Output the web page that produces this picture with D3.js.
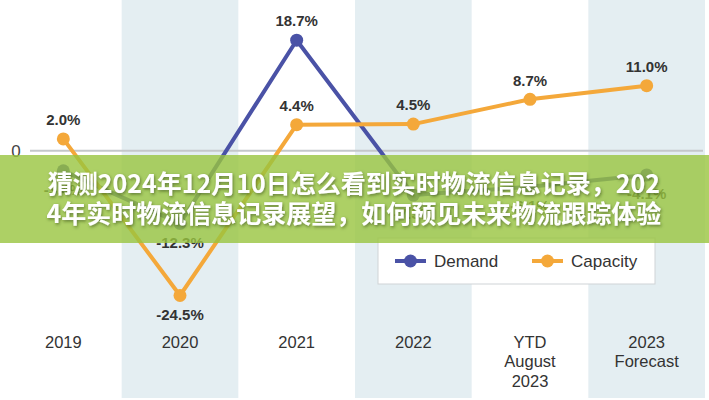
<!DOCTYPE html>
<html>
<head>
<meta charset="utf-8">
<script src="https://cdn.jsdelivr.net/npm/d3@7/dist/d3.min.js"></script>
<style>
html,body{margin:0;padding:0;background:#fff;}
svg{display:block;}
</style>
</head>
<body>
<svg id="chart" width="709" height="400"></svg>
<script>
const categories = ["2019", "2020", "2021", "2022", "YTD August 2023", "2023 Forecast"];
const categoryLines = [["2019"], ["2020"], ["2021"], ["2022"], ["YTD", "August", "2023"], ["2023", "Forecast"]];
const demand = [-3.4, -12.3, 18.7, -7.5, -6.1, -4.1];
const capacity = [2.0, -24.5, 4.4, 4.5, 8.7, 11.0];
const seriesNames = ["Demand", "Capacity"];
const zeroTick = ["0"];
const titleLines = ["猜测2024年12月10日怎么看到实时物流信息记录，202", "4年实时物流信息记录展望，如何预见未来物流跟踪体验"];

const W = 709, H = 400;
const svg = d3.select("#chart");
const colors = {Demand: "#4a52a6", Capacity: "#f4a83a"};

const x = d3.scaleBand().domain(categories).range([5, 705]).padding(0);
const y = d3.scaleLinear().domain([-24.5, 18.7]).range([295.5, 40.2]);

// alternating bands
svg.append("g").selectAll("rect")
  .data(categories.filter((d, i) => i % 2 === 1))
  .join("rect")
  .attr("x", d => x(d))
  .attr("y", 0)
  .attr("width", x.bandwidth())
  .attr("height", 398)
  .attr("fill", "#e4eef2");

// zero line
svg.append("line")
  .attr("x1", 30).attr("x2", 703)
  .attr("y1", y(0)).attr("y2", y(0))
  .attr("stroke", "#c4c7ca").attr("stroke-width", 2);

svg.append("text")
  .attr("x", 16).attr("y", y(0))
  .attr("dy", "0.35em")
  .attr("text-anchor", "middle")
  .attr("font-family", "Liberation Sans, Arial, sans-serif")
  .attr("font-size", 17)
  .attr("fill", "#444")
  .text(zeroTick[0]);

// category labels
const xl = svg.append("g");
categories.forEach((c, i) => {
  const t = xl.append("text")
    .attr("x", x(c) + x.bandwidth() / 2)
    .attr("y", 342)
    .attr("text-anchor", "middle")
    .attr("font-family", "Liberation Sans, Arial, sans-serif")
    .attr("font-size", 16.5)
    .attr("fill", "#333");
  categoryLines[i].forEach((ln, j) => {
    t.append("tspan")
      .attr("x", x(c) + x.bandwidth() / 2)
      .attr("y", 342 + j * 19.7)
      .attr("dy", "0.35em")
      .text(ln);
  });
});

const line = d3.line()
  .x((d, i) => x(categories[i]) + x.bandwidth() / 2)
  .y(d => y(d));

function drawSeries(name, vals, above) {
  const g = svg.append("g");
  g.append("path")
    .datum(vals)
    .attr("d", line)
    .attr("fill", "none")
    .attr("stroke", colors[name])
    .attr("stroke-width", 4)
    .attr("stroke-linejoin", "round");
  g.selectAll("circle")
    .data(vals)
    .join("circle")
    .attr("cx", (d, i) => x(categories[i]) + x.bandwidth() / 2)
    .attr("cy", d => y(d))
    .attr("r", 6.5)
    .attr("fill", colors[name]);
  g.selectAll("text")
    .data(vals)
    .join("text")
    .attr("x", (d, i) => x(categories[i]) + x.bandwidth() / 2)
    .attr("y", (d, i) => y(d) + (above(d, i) ? -19 : 19))
    .attr("dy", "0.35em")
    .attr("text-anchor", "middle")
    .attr("font-family", "Liberation Sans, Arial, sans-serif")
    .attr("font-weight", "bold")
    .attr("font-size", 15)
    .attr("fill", "#333")
    .text(d => d.toFixed(1) + "%");
}

drawSeries("Demand", demand, d => d > 0);
drawSeries("Capacity", capacity, d => d > 0);

// legend
const lg = svg.append("g");
lg.append("rect")
  .attr("x", 378).attr("y", 238)
  .attr("width", 277).attr("height", 46)
  .attr("fill", "#fff")
  .attr("stroke", "#cfd3d6").attr("stroke-width", 1);
const legendX = [395, 532];
seriesNames.forEach((n, i) => {
  const lx = legendX[i];
  lg.append("line")
    .attr("x1", lx).attr("x2", lx + 31)
    .attr("y1", 261).attr("y2", 261)
    .attr("stroke", colors[n]).attr("stroke-width", 4);
  lg.append("circle")
    .attr("cx", lx + 15.5).attr("cy", 261).attr("r", 6.5)
    .attr("fill", colors[n]);
  lg.append("text")
    .attr("x", lx + 39).attr("y", 261)
    .attr("dy", "0.35em")
    .attr("font-family", "Liberation Sans, Arial, sans-serif")
    .attr("font-size", 17)
    .attr("fill", "#333")
    .text(n);
});

// overlay banner
const defs = svg.append("defs");
const f = defs.append("filter").attr("id", "sh").attr("x", "-10%").attr("y", "-30%").attr("width", "120%").attr("height", "160%");
f.append("feDropShadow").attr("dx", 1).attr("dy", 1.5).attr("stdDeviation", 1.5)
  .attr("flood-color", "#2c3a10").attr("flood-opacity", 0.55);

svg.append("rect")
  .attr("x", 0).attr("y", 155)
  .attr("width", W).attr("height", 88)
  .attr("fill", "rgb(152,196,62)")
  .attr("fill-opacity", 0.8);

svg.append("g").selectAll("text")
  .data(titleLines)
  .join("text")
  .attr("x", 354)
  .attr("y", (d, i) => 184 + i * 30)
  .attr("dy", "0.35em")
  .attr("text-anchor", "middle")
  .attr("font-family", "Noto Sans CJK SC, sans-serif")
  .attr("font-weight", "bold")
  .attr("font-size", 25)
  .attr("fill", "#fff")
  .attr("filter", "url(#sh)")
  .text(d => d);
</script>
</body>
</html>
